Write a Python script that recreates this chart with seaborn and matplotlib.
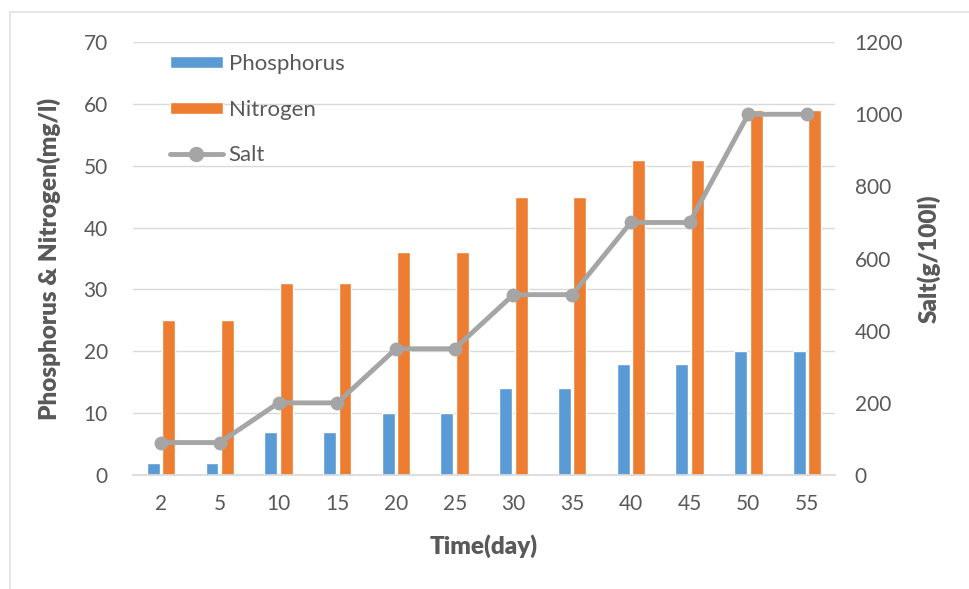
import matplotlib
matplotlib.use("Agg")
import matplotlib.pyplot as plt
import seaborn as sns
import pandas as pd
from matplotlib.patches import Rectangle, Patch
from matplotlib.lines import Line2D

days = ["2", "5", "10", "15", "20", "25", "30", "35", "40", "45", "50", "55"]
phosphorus = [2, 2, 7, 7, 10, 10, 14, 14, 18, 18, 20, 20]
nitrogen = [25, 25, 31, 31, 36, 36, 45, 45, 51, 51, 59, 59]
salt = [90, 90, 200, 200, 350, 350, 500, 500, 700, 700, 1000, 1000]

sns.set_theme(style="white")
plt.rcParams["font.family"] = ["Lato", "DejaVu Sans"]

blue = "#5B9BD5"
orange = "#ED7D31"
gray = "#A5A5A5"
txt = "#595959"

df = pd.DataFrame({
    "day": days * 2,
    "value": phosphorus + nitrogen,
    "series": ["Phosphorus"] * len(days) + ["Nitrogen"] * len(days),
})
sdf = pd.DataFrame({"day": days, "salt": salt})

fig = plt.figure(figsize=(9.7, 5.89), dpi=100)
ax = fig.add_axes([0.137, 0.1935, 0.724, 0.735])

sns.barplot(data=df, x="day", y="value", hue="series", order=days,
            palette=[blue, orange], width=0.53, gap=0.17, saturation=1,
            ax=ax, legend=False)
ax.set_ylim(0, 70)
ax.set_yticks(range(0, 71, 10))
ax.set_xlim(-0.48, len(days) - 0.52)
ax.yaxis.grid(True, color="#D9D9D9", linewidth=1)
ax.set_axisbelow(True)
for s in ["top", "right", "left"]:
    ax.spines[s].set_visible(False)
ax.spines["bottom"].set_color("#D9D9D9")
ax.tick_params(axis="both", length=0, labelsize=15, labelcolor=txt)
ax.tick_params(axis="y", pad=18)
ax.tick_params(axis="x", pad=14)
ax.set_xlabel("Time(day)", fontsize=17.5, fontweight="heavy", color=txt, labelpad=14)
ax.set_ylabel("Phosphorus & Nitrogen(mg/l)", fontsize=17.5, fontweight="heavy",
              color=txt, labelpad=16)

ax2 = ax.twinx()
sns.lineplot(data=sdf, x="day", y="salt", ax=ax2, color=gray, linewidth=3.5,
             marker="o", markersize=10, markeredgewidth=0, sort=False)
ax2.set_ylim(0, 1200)
ax2.set_yticks(range(0, 1201, 200))
for s in ["top", "right", "left", "bottom"]:
    ax2.spines[s].set_visible(False)
ax2.tick_params(axis="y", length=0, labelsize=15, labelcolor=txt, pad=14)
ax2.set_ylabel("Salt(g/100l)", fontsize=17.5, fontweight="heavy", color=txt, labelpad=10)
ax2.grid(False)

handles = [Patch(facecolor=blue), Patch(facecolor=orange),
           Line2D([0], [0], color=gray, linewidth=3.5, marker="o", markersize=10)]
leg = ax2.legend(handles, ["Phosphorus", "Nitrogen", "Salt"], loc="upper left",
                 bbox_to_anchor=(0.024, 1.018), frameon=False, fontsize=16,
                 labelspacing=1.15, handlelength=2.4, handleheight=0.45,
                 handletextpad=0.25, labelcolor=txt)

fig.patches.append(Rectangle((10 / 970, -0.01), 1.0, (589 - 12) / 589 + 0.01,
                             transform=fig.transFigure, fill=False,
                             edgecolor="#E0E0E0", linewidth=1.2))

fig.savefig("out.png", dpi=100, facecolor="white")
